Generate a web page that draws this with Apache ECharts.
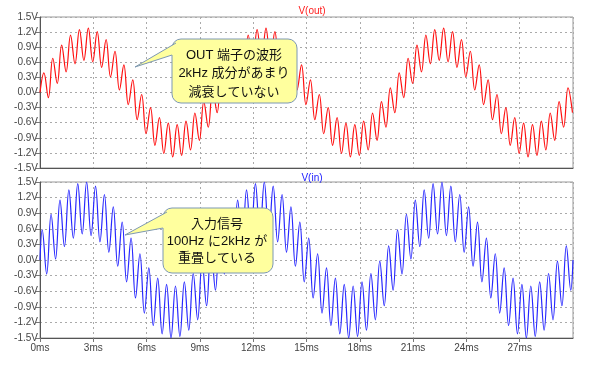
<!DOCTYPE html>
<html>
<head>
<meta charset="utf-8">
<script src="https://cdn.jsdelivr.net/npm/echarts@6/dist/echarts.min.js"></script>
<style>
html,body{margin:0;padding:0;background:#fff;}
#chart{width:600px;height:368px;}
</style>
</head>
<body>
<div id="chart"></div>
<script>
// ---- Data (values in volts at each 2 kHz extreme) ----
var xTicksMs = [0, 3, 6, 9, 12, 15, 18, 21, 24, 27];
var yTicksV = [-1.5, -1.2, -0.9, -0.6, -0.3, 0.0, 0.3, 0.6, 0.9, 1.2, 1.5];

// V(in): start at 0 ms, then one value per 2 kHz half-cycle (first at 0.125 ms, every 0.25 ms), end at 30 ms
var vInStartMs = 0.125;
var vInStepMs = 0.25;
var vIn = [0,
 0.58, -0.27, 0.88, 0.02, 1.15, 0.26, 1.35, 0.42, 1.47, 0.50,
 1.50, 0.47, 1.42, 0.35, 1.26, 0.15, 1.02, -0.12, 0.73, -0.42,
 0.42, -0.73, 0.12, -1.02, -0.15, -1.26, -0.35, -1.42, -0.47, -1.50,
 -0.50, -1.47, -0.42, -1.35, -0.26, -1.15, -0.02, -0.88, 0.27, -0.58,
 0.58, -0.27, 0.88, 0.02, 1.15, 0.26, 1.35, 0.42, 1.47, 0.50,
 1.50, 0.47, 1.42, 0.35, 1.26, 0.15, 1.02, -0.12, 0.73, -0.42,
 0.42, -0.73, 0.12, -1.02, -0.15, -1.26, -0.35, -1.42, -0.47, -1.50,
 -0.50, -1.47, -0.42, -1.35, -0.26, -1.15, -0.02, -0.88, 0.27, -0.58,
 0.58, -0.27, 0.88, 0.02, 1.15, 0.26, 1.35, 0.42, 1.47, 0.50,
 1.50, 0.47, 1.42, 0.35, 1.26, 0.15, 1.02, -0.12, 0.73, -0.42,
 0.42, -0.73, 0.12, -1.02, -0.15, -1.26, -0.35, -1.42, -0.47, -1.50,
 -0.50, -1.47, -0.42, -1.35, -0.26, -1.15, -0.02, -0.88, 0.27, -0.58,
 0];

// V(out): start at 0 ms, then one value per 2 kHz half-cycle (first at 0.22 ms, every 0.25 ms)
var vOutStartMs = 0.22;
var vOutStepMs = 0.25;
var vOut = [0,
 0.39, -0.10, 0.68, 0.18, 0.94, 0.41, 1.14, 0.57, 1.25, 0.64,
 1.28, 0.61, 1.21, 0.50, 1.05, 0.31, 0.82, 0.05, 0.55, -0.24,
 0.25, -0.54, -0.04, -0.82, -0.30, -1.05, -0.50, -1.21, -0.61, -1.28,
 -0.64, -1.25, -0.57, -1.14, -0.41, -0.95, -0.18, -0.69, 0.09, -0.40,
 0.39, -0.10, 0.68, 0.18, 0.94, 0.41, 1.14, 0.57, 1.25, 0.64,
 1.28, 0.61, 1.21, 0.50, 1.05, 0.31, 0.82, 0.05, 0.55, -0.24,
 0.25, -0.54, -0.04, -0.82, -0.30, -1.05, -0.50, -1.21, -0.61, -1.28,
 -0.64, -1.25, -0.57, -1.14, -0.41, -0.95, -0.18, -0.69, 0.09, -0.40,
 0.39, -0.10, 0.68, 0.18, 0.94, 0.41, 1.14, 0.57, 1.25, 0.64,
 1.28, 0.61, 1.21, 0.50, 1.05, 0.31, 0.82, 0.05, 0.55, -0.24,
 0.25, -0.54, -0.04, -0.82, -0.30, -1.05, -0.50, -1.21, -0.61, -1.28,
 -0.64, -1.25, -0.57, -1.14, -0.41, -0.95, -0.18, -0.69, 0.09, -0.40];

var endMs = 30;

// ---- build [t, v] pairs from the sample grid ----
function pairs(vals, startMs, stepMs, hasEnd) {
  var out = [];
  for (var i = 0; i < vals.length; i++) {
    var t;
    if (i === 0) t = 0;
    else if (hasEnd && i === vals.length - 1) t = endMs;
    else t = startMs + (i - 1) * stepMs;
    out.push([t, vals[i]]);
  }
  return out;
}
var inData = pairs(vIn, vInStartMs, vInStepMs, true);
var outData = pairs(vOut, vOutStartMs, vOutStepMs, false);

var FONT = '"Liberation Sans", Arial, "Noto Sans CJK JP", sans-serif';
var JFONT = '"Liberation Sans", Arial, "Noto Sans CJK JP", sans-serif';

function yLabel(v) {
  if (Math.abs(v) < 1e-9) return '0.0V';
  return v.toFixed(1) + 'V';
}

function xAxisCfg(idx, showLabels) {
  return {
    type: 'value', gridIndex: idx, min: 0, max: endMs, interval: 3,
    axisLine: { show: true, onZero: false, lineStyle: { color: '#555', width: 1 } },
    axisTick: { show: showLabels, length: 4, lineStyle: { color: '#777' } },
    axisLabel: {
      show: showLabels, color: '#444', fontSize: 10, fontFamily: FONT, margin: 5,
      showMaxLabel: false,
      formatter: function (v) { return xTicksMs.indexOf(v) >= 0 ? v + 'ms' : ''; }
    },
    splitLine: { show: true, lineStyle: { color: '#aaa', type: [2, 3], width: 1 } }
  };
}
function yAxisCfg(idx) {
  return {
    type: 'value', gridIndex: idx, min: yTicksV[0], max: yTicksV[yTicksV.length - 1], interval: 0.3,
    axisLine: { show: true, onZero: false, lineStyle: { color: '#555', width: 1 } },
    axisTick: { show: true, length: 4, lineStyle: { color: '#777' } },
    axisLabel: { color: '#444', fontSize: 10, fontFamily: FONT, margin: 2, formatter: yLabel },
    splitLine: { show: true, lineStyle: { color: '#aaa', type: [2, 3], width: 1 } }
  };
}

var chart = echarts.init(document.getElementById('chart'), null, { renderer: 'canvas' });

var FILL = '#ffff9e', STROKE = '#7d98b3';
function callout(box, tip, a, b) {
  return [
    { type: 'rect', z: 100, shape: { x: box[0], y: box[1], width: box[2], height: box[3], r: 9 },
      style: { fill: FILL, stroke: STROKE, lineWidth: 1 } },
    { type: 'polygon', z: 101, shape: { points: [a, tip, b, [a[0] + 6, b[1]], [a[0] + 6, a[1]]] },
      style: { fill: FILL, stroke: null } },
    { type: 'polyline', z: 102, shape: { points: [a, tip, b] },
      style: { fill: null, stroke: STROKE, lineWidth: 1 } }
  ];
}

function txt(x, y, s, size) {
  return { type: 'text', z: 103, style: { x: x, y: y, text: s, fill: '#111', font: (size || 13) + 'px ' + JFONT, textAlign: 'center', textVerticalAlign: 'middle' } };
}

var graphics = []
  .concat(callout([172, 39, 125, 64], [135, 67], [176, 43], [172, 55]))
  .concat([txt(234, 55, 'OUT 端子の波形'), txt(234, 73, '2kHz 成分があまり'), txt(234, 92, '減衰していない')])
  .concat(callout([163, 208, 110, 65], [125, 235], [167, 212], [163, 228]))
  .concat([txt(217, 224, '入力信号'), txt(217, 241, '100Hz に2kHz が'), txt(217, 258, '重畳している')]);

chart.setOption({
  animation: false,
  backgroundColor: '#fff',
  title: [
    { text: 'V(out)', left: 307, top: 1, textAlign: 'center', textStyle: { color: '#ff2020', fontSize: 10, fontWeight: 'normal', fontFamily: FONT } },
    { text: 'V(in)', left: 307, top: 168, textAlign: 'center', textStyle: { color: '#2020ff', fontSize: 10, fontWeight: 'normal', fontFamily: FONT } }
  ],
  grid: [
    { left: 40, top: 17, width: 533, height: 151, show: true, borderColor: '#999', borderWidth: 1, backgroundColor: 'transparent' },
    { left: 40, top: 182, width: 533, height: 156, show: true, borderColor: '#999', borderWidth: 1, backgroundColor: 'transparent' }
  ],
  xAxis: [xAxisCfg(0, false), xAxisCfg(1, true)],
  yAxis: [yAxisCfg(0), yAxisCfg(1)],
  series: [
    { name: 'V(out)', type: 'line', xAxisIndex: 0, yAxisIndex: 0, data: outData, showSymbol: false, smooth: 0.4,
      lineStyle: { color: '#ff1010', width: 1.2 }, clip: true },
    { name: 'V(in)', type: 'line', xAxisIndex: 1, yAxisIndex: 1, data: inData, showSymbol: false, smooth: 0.4,
      lineStyle: { color: '#2828ff', width: 1.2 }, clip: true }
  ],
  graphic: graphics
});
</script>
</body>
</html>
